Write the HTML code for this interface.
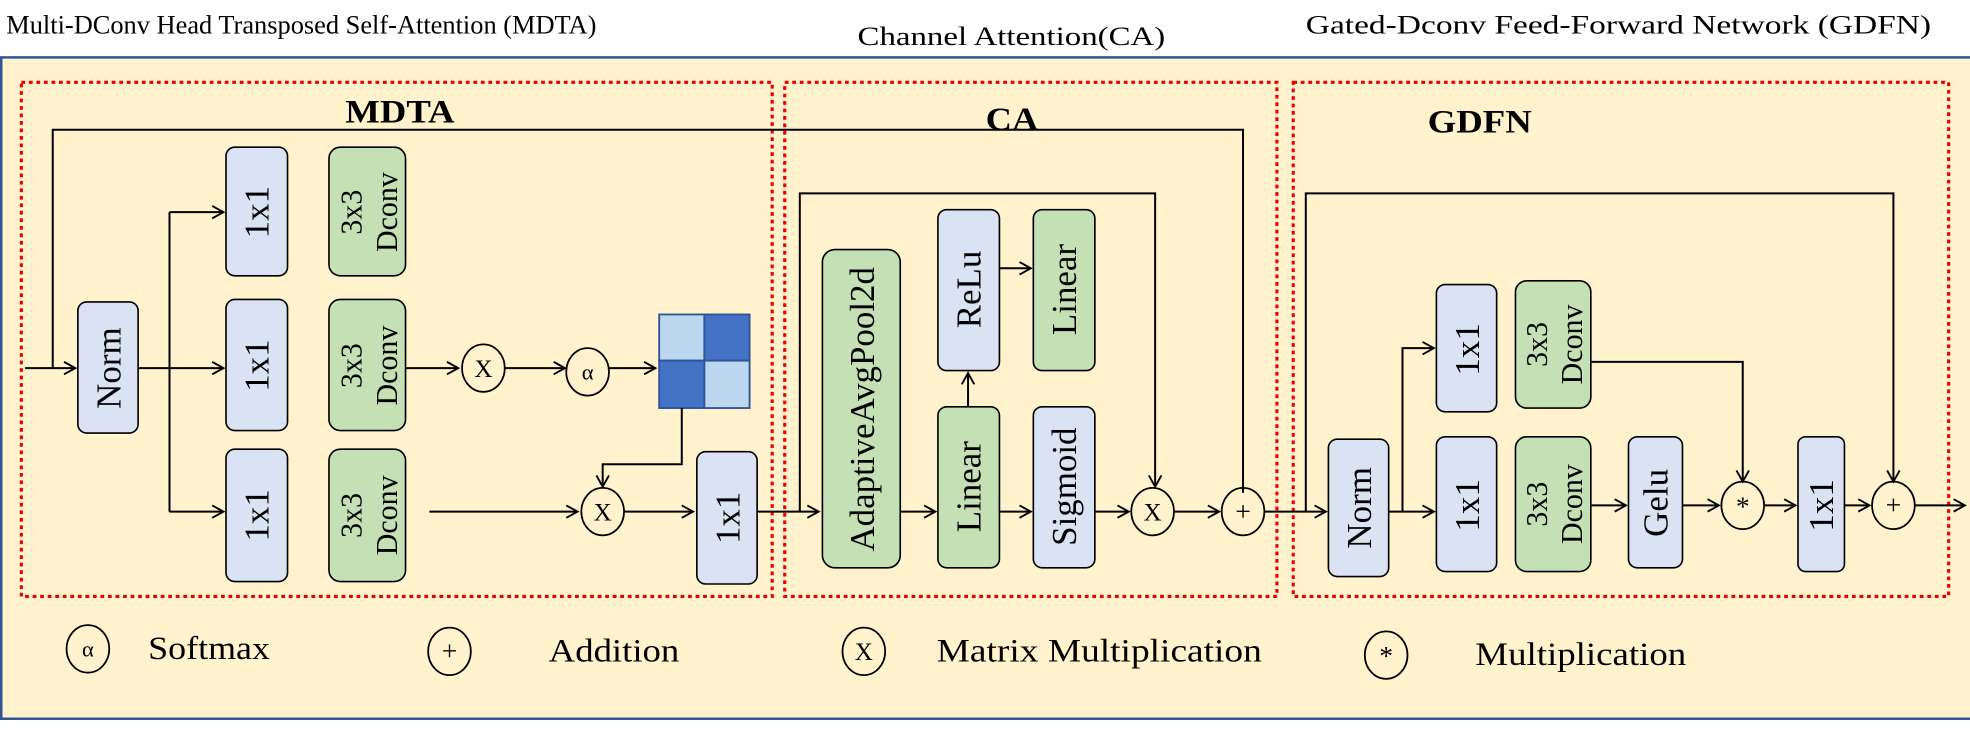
<!DOCTYPE html>
<html><head><meta charset="utf-8"><style>
html,body{margin:0;padding:0;background:#fff;width:1970px;height:730px;overflow:hidden}
svg{display:block}
text{font-family:"Liberation Serif",serif;fill:#000}
.b{fill:#dae3f3;stroke:#000;stroke-width:1.3}
.g{fill:#c5e0b4;stroke:#000;stroke-width:1.3}
.l{stroke:#000;stroke-width:1.6;fill:none}
.c{fill:none;stroke:#000;stroke-width:1.4}
.r{fill:none;stroke:#e00;stroke-width:2.5;stroke-dasharray:3 3}
.bt{font-size:28px}
.dc{font-size:24px}
</style></head><body>
<svg width="1970" height="730" viewBox="0 0 1569 585" preserveAspectRatio="none" xmlns="http://www.w3.org/2000/svg">
<defs><marker id="a" markerWidth="12" markerHeight="12" refX="10" refY="6" orient="auto" markerUnits="userSpaceOnUse"><path d="M1,1 L10,6 L1,11" fill="none" stroke="#000" stroke-width="1.5"/></marker></defs>
<text x="5" y="27" font-size="21" textLength="470" lengthAdjust="spacingAndGlyphs">Multi-DConv Head Transposed Self-Attention (MDTA)</text>
<text x="683" y="36" font-size="21" textLength="245" lengthAdjust="spacingAndGlyphs">Channel Attention(CA)</text>
<text x="1040" y="27" font-size="21" textLength="498" lengthAdjust="spacingAndGlyphs">Gated-Dconv Feed-Forward Network (GDFN)</text>
<rect x="1" y="46" width="1570" height="530" fill="#fff2cc" stroke="#2f5597" stroke-width="2"/>
<rect x="17" y="66" width="598" height="412" class="r"/>
<rect x="625" y="66" width="392" height="412" class="r"/>
<rect x="1030" y="66" width="522" height="412" class="r"/>
<text x="275" y="98" font-size="26" font-weight="bold" textLength="87" lengthAdjust="spacingAndGlyphs">MDTA</text>
<text x="785" y="104" font-size="26" font-weight="bold" textLength="42" lengthAdjust="spacingAndGlyphs">CA</text>
<text x="1137" y="106" font-size="26" font-weight="bold" textLength="83" lengthAdjust="spacingAndGlyphs">GDFN</text>
<path class="l" d="M42,295 V104 H990 V395"/>
<path class="l" d="M20,295 H60" marker-end="url(#a)"/>
<path class="l" d="M110,295 H178" marker-end="url(#a)"/>
<path class="l" d="M135,170 V410"/>
<path class="l" d="M135,170 H178" marker-end="url(#a)"/>
<path class="l" d="M135,410 H178" marker-end="url(#a)"/>
<rect x="62" y="242" width="48" height="105" rx="7" class="b"/>
<rect x="180" y="118" width="49" height="103" rx="7" class="b"/>
<rect x="180" y="240" width="49" height="105" rx="7" class="b"/>
<rect x="180" y="360" width="49" height="106" rx="7" class="b"/>
<rect x="262" y="118" width="61" height="103" rx="9" class="g"/>
<rect x="262" y="240" width="61" height="105" rx="9" class="g"/>
<rect x="262" y="360" width="61" height="106" rx="9" class="g"/>
<text class="bt" transform="translate(96,295) rotate(-90)" text-anchor="middle">Norm</text>
<text class="bt" transform="translate(214,170) rotate(-90)" text-anchor="middle">1x1</text>
<text class="bt" transform="translate(214,293) rotate(-90)" text-anchor="middle">1x1</text>
<text class="bt" transform="translate(214,413) rotate(-90)" text-anchor="middle">1x1</text>
<g class="dc"><text transform="translate(288,170) rotate(-90)" text-anchor="middle">3x3</text><text transform="translate(316,170) rotate(-90)" text-anchor="middle">Dconv</text>
<text transform="translate(288,293) rotate(-90)" text-anchor="middle">3x3</text><text transform="translate(316,293) rotate(-90)" text-anchor="middle">Dconv</text>
<text transform="translate(288,413) rotate(-90)" text-anchor="middle">3x3</text><text transform="translate(316,413) rotate(-90)" text-anchor="middle">Dconv</text></g>
<path class="l" d="M323,295 H365" marker-end="url(#a)"/>
<ellipse cx="385" cy="295" rx="17" ry="19" class="c"/><text x="385" y="302" font-size="20" text-anchor="middle">X</text>
<path class="l" d="M402,295 H450" marker-end="url(#a)"/>
<ellipse cx="468" cy="298" rx="17" ry="19" class="c"/><text x="468" y="304" font-size="18" text-anchor="middle">α</text>
<path class="l" d="M485,295 H522" marker-end="url(#a)"/>
<rect x="525" y="252" width="36" height="37" fill="#bdd7ee" stroke="#2f5597" stroke-width="1.5"/>
<rect x="561" y="252" width="36" height="37" fill="#4472c4" stroke="#2f5597" stroke-width="1.5"/>
<rect x="525" y="289" width="36" height="38" fill="#4472c4" stroke="#2f5597" stroke-width="1.5"/>
<rect x="561" y="289" width="36" height="38" fill="#bdd7ee" stroke="#2f5597" stroke-width="1.5"/>
<path class="l" d="M543,327 V372 H480 V390" marker-end="url(#a)"/>
<path class="l" d="M342,410 H460" marker-end="url(#a)"/>
<ellipse cx="480" cy="410" rx="17" ry="19" class="c"/><text x="480" y="417" font-size="20" text-anchor="middle">X</text>
<path class="l" d="M497,410 H552" marker-end="url(#a)"/>
<rect x="555" y="362" width="48" height="106" rx="7" class="b"/>
<text class="bt" transform="translate(589,415) rotate(-90)" text-anchor="middle">1x1</text>
<path class="l" d="M603,410 H652" marker-end="url(#a)"/>
<path class="l" d="M637,410 V155 H920 V390" marker-end="url(#a)"/>
<rect x="655" y="200" width="62" height="255" rx="10" class="g"/>
<text class="bt" transform="translate(696,328) rotate(-90)" text-anchor="middle">AdaptiveAvgPool2d</text>
<path class="l" d="M717,410 H745" marker-end="url(#a)"/>
<rect x="747" y="326" width="49" height="129" rx="7" class="g"/>
<text class="bt" transform="translate(781,390) rotate(-90)" text-anchor="middle">Linear</text>
<rect x="747" y="168" width="49" height="129" rx="7" class="b"/>
<text class="bt" transform="translate(781,232) rotate(-90)" text-anchor="middle">ReLu</text>
<rect x="823" y="168" width="49" height="129" rx="7" class="g"/>
<text class="bt" transform="translate(857,232) rotate(-90)" text-anchor="middle">Linear</text>
<rect x="823" y="326" width="49" height="129" rx="7" class="b"/>
<text class="bt" transform="translate(857,390) rotate(-90)" text-anchor="middle">Sigmoid</text>
<path class="l" d="M771,326 V299" marker-end="url(#a)"/>
<path class="l" d="M796,215 H821" marker-end="url(#a)"/>
<path class="l" d="M796,410 H821" marker-end="url(#a)"/>
<path class="l" d="M872,410 H899" marker-end="url(#a)"/>
<ellipse cx="918" cy="410" rx="17" ry="19" class="c"/><text x="918" y="417" font-size="20" text-anchor="middle">X</text>
<path class="l" d="M935,410 H971" marker-end="url(#a)"/>
<ellipse cx="990" cy="410" rx="17" ry="19" class="c"/><text x="990" y="417" font-size="22" text-anchor="middle">+</text>
<path class="l" d="M1007,410 H1056" marker-end="url(#a)"/>
<path class="l" d="M1040,410 V155 H1508 V386" marker-end="url(#a)"/>
<rect x="1058" y="352" width="48" height="110" rx="7" class="b"/>
<text class="bt" transform="translate(1092,407) rotate(-90)" text-anchor="middle">Norm</text>
<path class="l" d="M1106,410 H1142" marker-end="url(#a)"/>
<path class="l" d="M1117,410 V279 H1142" marker-end="url(#a)"/>
<rect x="1144" y="228" width="48" height="102" rx="7" class="b"/>
<text class="bt" transform="translate(1178,280) rotate(-90)" text-anchor="middle">1x1</text>
<rect x="1144" y="350" width="48" height="108" rx="7" class="b"/>
<text class="bt" transform="translate(1178,405) rotate(-90)" text-anchor="middle">1x1</text>
<rect x="1207" y="225" width="60" height="102" rx="9" class="g"/>
<rect x="1207" y="350" width="60" height="108" rx="9" class="g"/>
<g class="dc"><text transform="translate(1232,276) rotate(-90)" text-anchor="middle">3x3</text><text transform="translate(1260,276) rotate(-90)" text-anchor="middle">Dconv</text>
<text transform="translate(1232,404) rotate(-90)" text-anchor="middle">3x3</text><text transform="translate(1260,404) rotate(-90)" text-anchor="middle">Dconv</text></g>
<path class="l" d="M1267,290 H1388 V386" marker-end="url(#a)"/>
<path class="l" d="M1267,405 H1295" marker-end="url(#a)"/>
<rect x="1297" y="350" width="43" height="105" rx="7" class="b"/>
<text class="bt" transform="translate(1328,403) rotate(-90)" text-anchor="middle">Gelu</text>
<path class="l" d="M1340,405 H1369" marker-end="url(#a)"/>
<ellipse cx="1388" cy="405" rx="17" ry="19" class="c"/><text x="1388" y="413" font-size="22" text-anchor="middle">*</text>
<path class="l" d="M1405,405 H1430" marker-end="url(#a)"/>
<rect x="1432" y="350" width="37" height="108" rx="6" class="b"/>
<text class="bt" transform="translate(1460,405) rotate(-90)" text-anchor="middle">1x1</text>
<path class="l" d="M1469,405 H1489" marker-end="url(#a)"/>
<ellipse cx="1508" cy="405" rx="17" ry="19" class="c"/><text x="1508" y="412" font-size="22" text-anchor="middle">+</text>
<path class="l" d="M1525,405 H1565" marker-end="url(#a)"/>
<ellipse cx="70" cy="520" rx="17" ry="19" class="c"/><text x="70" y="526" font-size="18" text-anchor="middle">α</text>
<text x="118" y="528" font-size="26" textLength="97" lengthAdjust="spacingAndGlyphs">Softmax</text>
<ellipse cx="358" cy="522" rx="17" ry="19" class="c"/><text x="358" y="529" font-size="22" text-anchor="middle">+</text>
<text x="437" y="530" font-size="26" textLength="104" lengthAdjust="spacingAndGlyphs">Addition</text>
<ellipse cx="688" cy="522" rx="17" ry="19" class="c"/><text x="688" y="529" font-size="20" text-anchor="middle">X</text>
<text x="746" y="530" font-size="26" textLength="259" lengthAdjust="spacingAndGlyphs">Matrix Multiplication</text>
<ellipse cx="1104" cy="525" rx="17" ry="19" class="c"/><text x="1104" y="533" font-size="22" text-anchor="middle">*</text>
<text x="1175" y="533" font-size="26" textLength="168" lengthAdjust="spacingAndGlyphs">Multiplication</text>
</svg>
</body></html>
